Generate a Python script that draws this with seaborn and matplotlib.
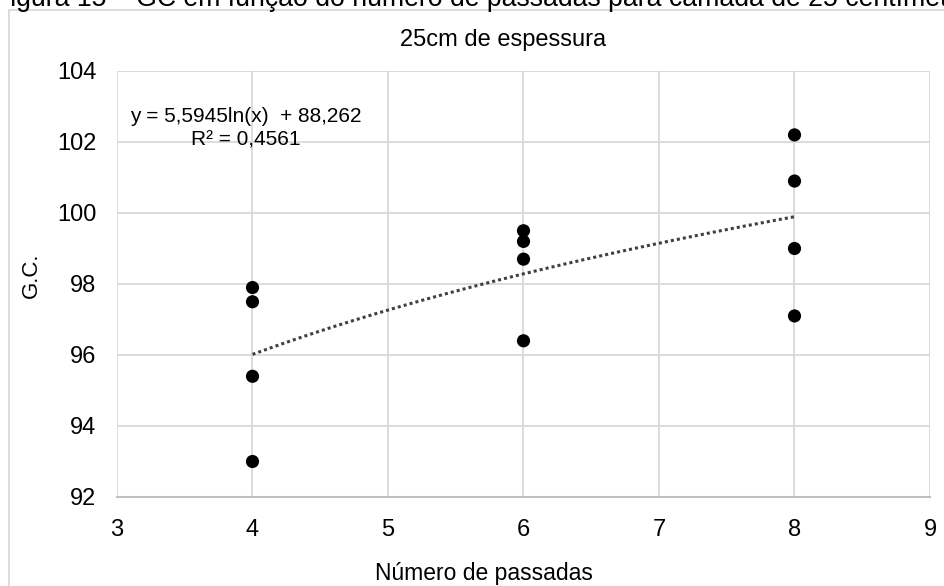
import numpy as np
import pandas as pd
import matplotlib
matplotlib.use("Agg")
import matplotlib.pyplot as plt
from matplotlib.patches import Rectangle
import seaborn as sns

# Compaction degree (G.C.) measured after each number of roller passes
passadas = [4, 4, 4, 4, 6, 6, 6, 6, 8, 8, 8, 8]
gc_values = [97.9, 97.5, 95.4, 93.0, 99.5, 99.2, 98.7, 96.4, 102.2, 100.9, 99.0, 97.1]

# Logarithmic trend line coefficients: y = a*ln(x) + b
coef_a = 5.5945
coef_b = 88.262
r_squared = 0.4561

x_ticks = [3, 4, 5, 6, 7, 8, 9]
y_ticks = [92, 94, 96, 98, 100, 102, 104]

df = pd.DataFrame({"passadas": passadas, "gc": gc_values})

sns.set_theme(style="white")
plt.rcParams["font.family"] = ["Liberation Sans", "DejaVu Sans"]

W, H = 944, 586
fig = plt.figure(figsize=(W / 100, H / 100), dpi=100)
fig.patch.set_facecolor("white")

# Chart frame (extends past the lower and right edges)
fig.add_artist(Rectangle((9 / W, -0.2), 1.5, 1 - 10 / H + 0.2,
                         transform=fig.transFigure, fill=False,
                         edgecolor="#d9d9d9", linewidth=1.3, zorder=0))

# Figure caption, partly cropped at the top
fig.text(-6 / W, 1 - 6.5 / H,
         "Figura 15 – GC em função do número de passadas para camada de 25 centímetros",
         ha="left", va="baseline", fontsize=19.2, color="#000000")

ax = fig.add_axes([117 / W, 1 - 497 / H, 813 / W, 426 / H])
ax.set_facecolor("white")

ax.set_xlim(3, 9)
ax.set_ylim(92, 104)
ax.set_xticks(x_ticks)
ax.set_yticks(y_ticks)
ax.set_xticklabels([str(t) for t in x_ticks], fontsize=17)
ax.set_yticklabels([str(t) for t in y_ticks], fontsize=17)
ax.tick_params(axis="x", length=0, pad=16, colors="#000000")
ax.tick_params(axis="y", length=0, pad=15, colors="#000000")

ax.grid(True, color="#d9d9d9", linewidth=1.3)
ax.set_axisbelow(True)
for side in ["top", "right", "left"]:
    ax.spines[side].set_visible(False)
ax.spines["bottom"].set_color("#bfbfbf")
ax.spines["bottom"].set_linewidth(1.5)

# Trend line from the stated coefficients
xs = np.linspace(min(passadas), max(passadas), 200)
ax.plot(xs, coef_a * np.log(xs) + coef_b, linestyle=(0, (1, 1)),
        color="#404040", linewidth=2.2, zorder=2)

sns.scatterplot(data=df, x="passadas", y="gc", ax=ax, color="black",
                s=90, edgecolor="none", zorder=3, legend=False)

ax.set_xlabel("Número de passadas", fontsize=16.5, color="#000000")
ax.xaxis.set_label_coords((484 - 117) / 813, -(562 - 497) / 426)
ax.set_ylabel("G.C.", fontsize=16, color="#000000")
ax.yaxis.set_label_coords(-(117 - 42) / 813, 0.52)

fig.text(503 / W, 1 - 40 / H, "25cm de espessura", ha="center", va="center",
         fontsize=17, color="#000000")

eq_a = f"{coef_a:.4f}".replace(".", ",")
eq_b = f"{coef_b:.3f}".replace(".", ",")
r2 = f"{r_squared:.4f}".replace(".", ",")
ax.text((246 - 117) / 813, (497 - 128) / 426,
        f"y = {eq_a}ln(x)  + {eq_b}\nR² = {r2}",
        transform=ax.transAxes, ha="center", va="center",
        fontsize=15, linespacing=1.3, color="#000000")

fig.savefig("out.png", dpi=100, facecolor="white")
